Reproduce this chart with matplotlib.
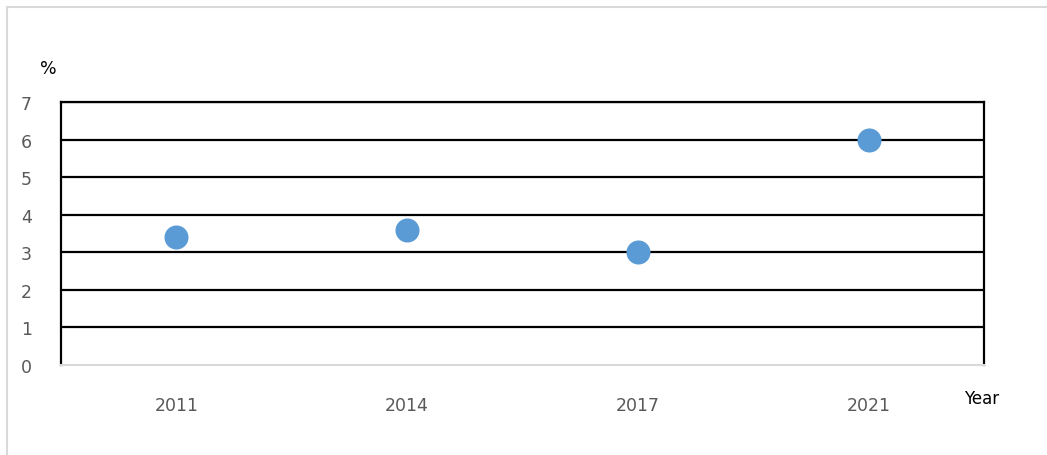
import matplotlib
matplotlib.use("Agg")
import matplotlib.pyplot as plt
from matplotlib.patches import Rectangle

years = ["2011", "2014", "2017", "2021"]
values = [3.4, 3.6, 3.0, 6.0]
y_ticks = [0, 1, 2, 3, 4, 5, 6, 7]

W, H = 1047, 456
fig = plt.figure(figsize=(W / 100, H / 100), dpi=100)
fig.patch.set_facecolor("white")

# outer light border (left & top visible)
fig.patches.append(Rectangle((7 / W, -0.1), 1.2, (H - 8) / H + 0.1,
                             transform=fig.transFigure, fill=False,
                             edgecolor="#D9D9D9", linewidth=1.5))

ax = fig.add_axes([61 / W, (H - 366) / H, (984 - 61) / W, (366 - 103) / H])
x = [i + 0.5 for i in range(len(years))]
ax.set_xlim(0, len(years))
ax.set_ylim(0, 7)

for yv in y_ticks[1:]:
    ax.axhline(yv, color="black", linewidth=1.6, zorder=1)

ax.scatter(x, values, s=300, color="#5B9BD5", zorder=3, linewidths=0)

for s in ["left", "right", "top"]:
    ax.spines[s].set_color("black")
    ax.spines[s].set_linewidth(1.6)
ax.spines["bottom"].set_color("#D9D9D9")
ax.spines["bottom"].set_linewidth(1.5)

ax.set_yticks(y_ticks)
ax.set_yticklabels([str(v) for v in y_ticks])
ax.set_xticks(x)
ax.set_xticklabels(years)
ax.tick_params(axis="y", length=0, pad=21, labelsize=12.5, labelcolor="#595959")
ax.tick_params(axis="x", length=0, pad=22, labelsize=12.5, labelcolor="#595959")
for lbl in ax.get_yticklabels():
    lbl.set_va("center_baseline")

fig.text(48 / W, 1 - 69 / H, "%", ha="center", va="center", fontsize=12.5, color="black")
fig.text(982 / W, 1 - 399 / H, "Year", ha="center", va="center", fontsize=12, color="black")

fig.savefig("out.png", dpi=100)
